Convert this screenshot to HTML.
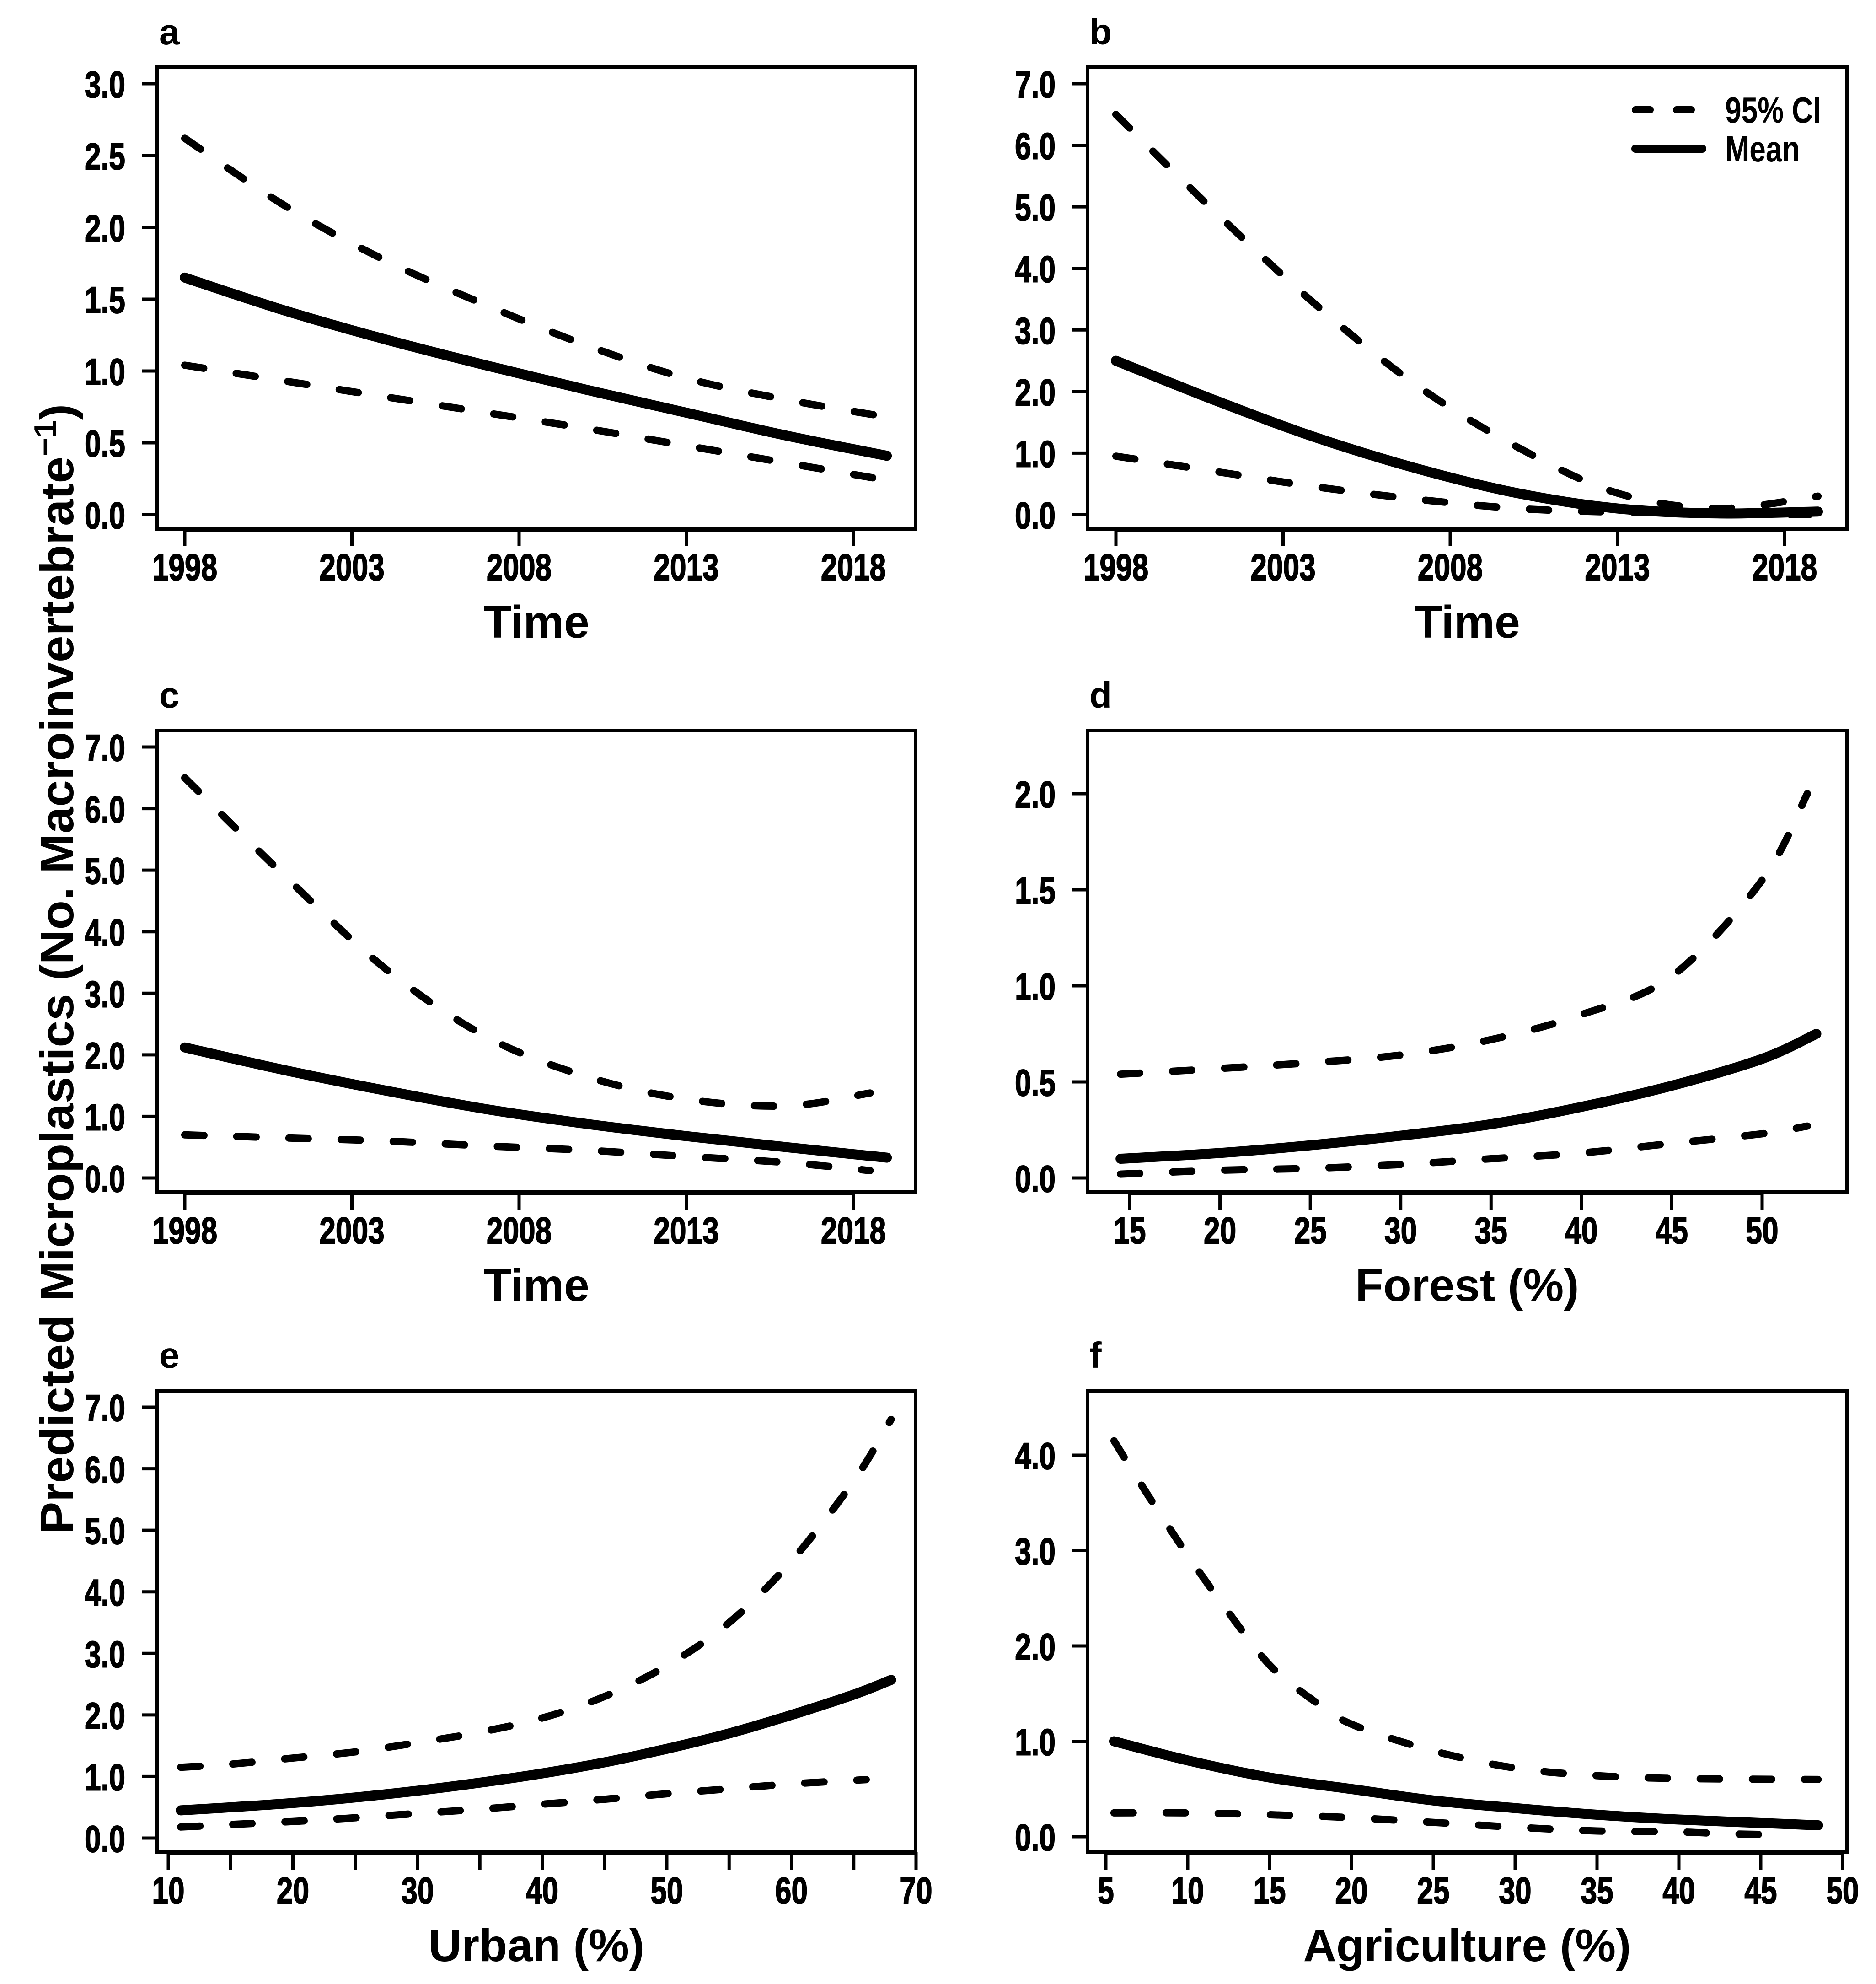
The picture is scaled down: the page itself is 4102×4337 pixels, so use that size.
<!DOCTYPE html>
<html><head><meta charset="utf-8"><style>
html,body{margin:0;padding:0;background:#fff;}
svg{display:block;}
text{font-family:"Liberation Sans",Arial,sans-serif;font-weight:bold;fill:#000;}
</style></head><body>
<svg id="fig" xmlns="http://www.w3.org/2000/svg" width="4102" height="4337" viewBox="0 0 4102 4337">
<text transform="translate(160,2118) rotate(-90)" text-anchor="middle" font-size="102" textLength="2470" lengthAdjust="spacingAndGlyphs">Predicted Microplastics (No. Macroinvertebrate<tspan dy="-38" font-size="68">−1</tspan><tspan dy="38">)</tspan></text>
<g>
<line x1="3576" y1="240" x2="3722" y2="240" stroke="#000" stroke-width="16" stroke-dasharray="32 58" stroke-linecap="round"/>
<line x1="3576" y1="325" x2="3722" y2="325" stroke="#000" stroke-width="18" stroke-linecap="round"/>
<text transform="translate(3772,268) scale(0.8,1)" font-size="80">95% CI</text>
<text transform="translate(3772,353) scale(0.8,1)" font-size="80">Mean</text>
</g>
</svg>
<script>
// ---- data ----
const timeX = [1998,2001,2004,2007,2010,2013,2016,2019];
const aMean = [1.65,1.42,1.22,1.04,0.87,0.71,0.55,0.41];
const aUpper = [2.62,2.15,1.77,1.46,1.18,0.95,0.80,0.68];
const aLower = [1.04,0.93,0.82,0.71,0.60,0.48,0.36,0.24];
const bMean = [2.5,1.85,1.25,0.75,0.35,0.1,0.02,0.05];
const bUpper = [6.5,4.9,3.4,2.1,1.1,0.35,0.1,0.3];
const bLower = [0.95,0.7,0.45,0.25,0.1,0.04,0.02,0.0];
const cX2 = [1998,2001,2004,2007,2010,2013,2016,2018.5];
const cMean = [2.12,1.75,1.42,1.12,0.88,0.68,0.50,0.33];
const cUpper = [6.5,4.9,3.4,2.3,1.65,1.28,1.17,1.38];
const cLower = [0.7,0.65,0.6,0.52,0.45,0.35,0.25,0.12];
const dXMean = [14.5,20,25,30,35,40,45,50,53];
const dXCI = [14.5,20,25,30,35,40,45,50,52.5];
const dMean = [0.1,0.13,0.17,0.22,0.28,0.37,0.48,0.62,0.75];
const dUpper = [0.54,0.57,0.6,0.64,0.72,0.85,1.05,1.55,2.0];
const dLower = [0.02,0.04,0.05,0.07,0.1,0.13,0.18,0.23,0.27];
const eX = [11,15,20,25,30,35,40,45,50,55,60,65,68];
const eXLower = [11,15,20,25,30,35,40,45,50,55,60,66];
const eMean = [0.45,0.5,0.57,0.66,0.77,0.9,1.05,1.23,1.45,1.7,2.0,2.33,2.57];
const eUpper = [1.15,1.2,1.3,1.4,1.55,1.72,1.95,2.3,2.8,3.5,4.5,5.8,6.8];
const eLower = [0.18,0.22,0.27,0.33,0.4,0.47,0.55,0.63,0.72,0.8,0.88,0.95];
const fXMean = [5.5,10,15,20,25,30,35,40,48.5];
const fMean = [1.0,0.8,0.62,0.5,0.38,0.3,0.23,0.18,0.12];
const fXUpper = [5.5,7.5,10,12.5,15,17.5,20,25,30,35,40,48.5];
const fUpper = [4.15,3.6,2.95,2.35,1.8,1.45,1.18,0.9,0.72,0.64,0.61,0.6];
const fXLower = [5.5,10,15,20,25,30,35,40,43,46.5];
const fLower = [0.25,0.25,0.23,0.2,0.15,0.1,0.06,0.05,0.03,0.02];
const timeTicks = [1998,2003,2008,2013,2018];
const yTicks7 = ['0.0','1.0','2.0','3.0','4.0','5.0','6.0','7.0'];
const yTicksA = ['0.0','0.5','1.0','1.5','2.0','2.5','3.0'];
const yTicksD = ['0.0','0.5','1.0','1.5','2.0'];
const yTicksF = ['0.0','1.0','2.0','3.0','4.0'];
const dTicks = [15,20,25,30,35,40,45,50];
const eTicks = [10,15,20,25,30,35,40,45,50,55,60,65,70];
const eLabels = [10,20,30,40,50,60,70];
const fTicks = [5,10,15,20,25,30,35,40,45,50];

const NS='http://www.w3.org/2000/svg';
const svg=document.getElementById('fig');
function el(tag,attrs,parent){const e=document.createElementNS(NS,tag);for(const k in attrs)e.setAttribute(k,attrs[k]);(parent||svg).appendChild(e);return e;}
function pathD(pts){
  let d='M'+pts[0][0].toFixed(1)+','+pts[0][1].toFixed(1);
  for(let i=0;i<pts.length-1;i++){
    const p0=pts[Math.max(0,i-1)],p1=pts[i],p2=pts[i+1],p3=pts[Math.min(pts.length-1,i+2)];
    const c1=[p1[0]+(p2[0]-p0[0])/6,p1[1]+(p2[1]-p0[1])/6];
    const c2=[p2[0]-(p3[0]-p1[0])/6,p2[1]-(p3[1]-p1[1])/6];
    d+='C'+c1[0].toFixed(1)+','+c1[1].toFixed(1)+' '+c2[0].toFixed(1)+','+c2[1].toFixed(1)+' '+p2[0].toFixed(1)+','+p2[1].toFixed(1);
  }
  return d;
}
const panels=[
 {id:'a',box:[344,147,2002,1156],xv:[1998,2018],xp:[404,1866],yv:[0,3],yp:[1125,183],yt:yTicksA,xt:timeTicks,xl:timeTicks,title:'Time',
  series:[[timeX,aUpper,'ci-upper'],[timeX,aLower,'ci-lower'],[timeX,aMean,'mean']]},
 {id:'b',box:[2378,147,4038,1156],xv:[1998,2018],xp:[2440,3902],yv:[0,7],yp:[1125,183],yt:yTicks7,xt:timeTicks,xl:timeTicks,title:'Time',
  series:[[timeX,bUpper,'ci-upper'],[timeX,bLower,'ci-lower'],[timeX,bMean,'mean']]},
 {id:'c',box:[344,1597,2002,2606],xv:[1998,2018],xp:[404,1866],yv:[0,7],yp:[2575,1633],yt:yTicks7,xt:timeTicks,xl:timeTicks,title:'Time',
  series:[[cX2,cUpper,'ci-upper'],[cX2,cLower,'ci-lower'],[timeX,cMean,'mean']]},
 {id:'d',box:[2378,1597,4038,2606],xv:[15,50],xp:[2470,3853],yv:[0,2],yp:[2575,1735],yt:yTicksD,xt:dTicks,xl:dTicks,title:'Forest (%)',
  series:[[dXCI,dUpper,'ci-upper'],[dXCI,dLower,'ci-lower'],[dXMean,dMean,'mean']]},
 {id:'e',box:[344,3040,2002,4049],xv:[10,70],xp:[368,2003],yv:[0,7],yp:[4018,3076],yt:yTicks7,xt:eTicks,xl:eLabels,title:'Urban (%)',
  series:[[eX,eUpper,'ci-upper'],[eXLower,eLower,'ci-lower'],[eX,eMean,'mean']]},
 {id:'f',box:[2378,3040,4038,4049],xv:[5,50],xp:[2418,4029],yv:[0,4],yp:[4015,3181],yt:yTicksF,xt:fTicks,xl:fTicks,title:'Agriculture (%)',
  series:[[fXUpper,fUpper,'ci-upper'],[fXLower,fLower,'ci-lower'],[fXMean,fMean,'mean']]}
];
panels.forEach(p=>{
  const g=el('g',{});
  
  
  const sx=v=>p.xp[0]+(v-p.xv[0])*(p.xp[1]-p.xp[0])/(p.xv[1]-p.xv[0]);
  const sy=v=>p.yp[0]+(v-p.yv[0])*(p.yp[1]-p.yp[0])/(p.yv[1]-p.yv[0]);
  const [L,T,R,B]=p.box;
  const lab=el('text',{x:L+4,y:T-50,'font-size':80,'font-weight':'normal'},g);
  
  
  lab.textContent=p.id;
  const rect=el('rect',{x:L,y:T,width:R-L,height:B-T,fill:'none',stroke:'#000','stroke-width':8},g);
  
  
  p.yt.forEach(t=>{
    const y=sy(parseFloat(t));
    const tk=el('line',{x1:L-34,x2:L,y1:y,y2:y,stroke:'#000','stroke-width':7},g);
    
    
    const tx=el('text',{transform:'translate('+(L-70)+','+(y+30)+') scale(0.78,1)','text-anchor':'end','font-size':82,stroke:'#000','stroke-width':2},g);
    
    
    tx.textContent=t;
  });
  const ax=el('line',{x1:sx(p.xt[0]),x2:sx(p.xt[p.xt.length-1]),y1:B+2,y2:B+2,stroke:'#000','stroke-width':9},g);
  
  
  p.xt.forEach(t=>{
    const x=sx(t);
    const tk=el('line',{x1:x,x2:x,y1:B,y2:B+38,stroke:'#000','stroke-width':7},g);
    
    
  });
  p.xl.forEach(t=>{
    const tx=el('text',{transform:'translate('+sx(t)+','+(B+112)+') scale(0.78,1)','text-anchor':'middle','font-size':82,stroke:'#000','stroke-width':2},g);
    
    
    tx.textContent=t;
  });
  const tt=el('text',{x:(L+R)/2,y:B+238,'text-anchor':'middle','font-size':100},g);
  
  
  tt.textContent=p.title;
  p.series.forEach(s=>{
    const pts=s[0].map((xv,i)=>[sx(xv),sy(s[1][i])]);
    const isMean=s[2]==='mean';
    const a={d:pathD(pts),fill:'none',stroke:'#000','stroke-width':isMean?22:16,'stroke-linecap':'round','stroke-linejoin':'round'};
    if(!isMean)a['stroke-dasharray']='42 72';
    const pe=el('path',a,g);
    
    
  });
});
</script>
</body></html>
